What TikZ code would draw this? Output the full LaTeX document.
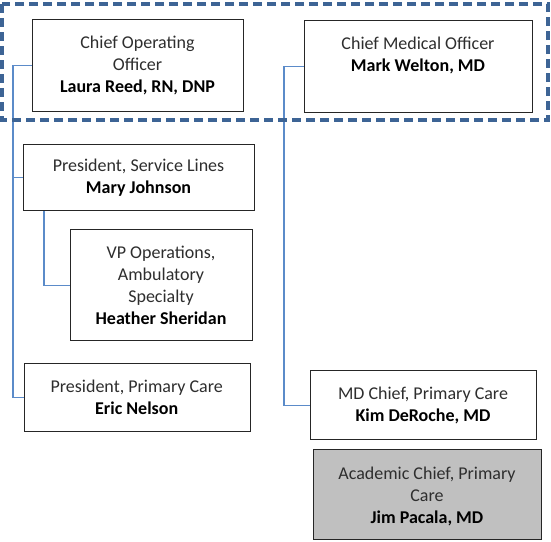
\documentclass[tikz,border=0pt]{standalone}
\usepackage{fontspec}
\setmainfont{Carlito}
\definecolor{dashblue}{HTML}{3D6495}
\definecolor{connblue}{HTML}{5B8BC9}
\definecolor{txtgray}{HTML}{2E2E2E}
\definecolor{boxgray}{HTML}{C0C0C0}
\tikzset{
  orgbox/.style={draw=black!85, line width=1.3pt, inner sep=0pt, anchor=north west, fill=white},
  txt/.style={align=center, inner sep=0pt, font=\fontsize{18}{22}\selectfont, text=txtgray},
  conn/.style={draw=connblue, line width=1.3pt},
  group/.style={draw=dashblue, line width=3.5pt, dash pattern=on 9pt off 5pt}
}
\begin{document}
\begin{tikzpicture}[x=1pt,y=-1pt]
\useasboundingbox (0,0) rectangle (551,541);
% boxes
\node[orgbox, minimum width=211pt, minimum height=92pt] (coo) at (32,19) {};
\node[orgbox, minimum width=228pt, minimum height=92pt] (cmo) at (304,20) {};
\node[orgbox, minimum width=231pt, minimum height=66pt] (psl) at (23,144) {};
\node[orgbox, minimum width=182pt, minimum height=111pt] (vp) at (70,229) {};
\node[orgbox, minimum width=226pt, minimum height=68pt] (ppc) at (24,363) {};
\node[orgbox, minimum width=226pt, minimum height=69pt] (mdc) at (310,370) {};
\node[orgbox, fill=boxgray, minimum width=228pt, minimum height=90pt] (aca) at (313,449) {};
% texts
\node[txt] (coot) at (137.5,65) {Chief Operating\\Officer\\\textcolor{black}{\textbf{Laura Reed, RN, DNP}}};
\node[txt] (cmot) at (418,55.5) {Chief Medical Officer\\\textcolor{black}{\textbf{Mark Welton, MD}}};
\node[txt] (pslt) at (138.5,177.5) {President, Service Lines\\\textcolor{black}{\textbf{Mary Johnson}}};
\node[txt] (vpt) at (161,285) {VP Operations,\\Ambulatory\\Specialty\\\textcolor{black}{\textbf{Heather Sheridan}}};
\node[txt] (ppct) at (136.7,397) {President, Primary Care\\\textcolor{black}{\textbf{Eric Nelson}}};
\node[txt] (mdct) at (423,405.4) {MD Chief, Primary Care\\\textcolor{black}{\textbf{Kim DeRoche, MD}}};
\node[txt] (acat) at (427,496) {Academic Chief, Primary\\Care\\\textcolor{black}{\textbf{Jim Pacala, MD}}};
% connectors
\draw[conn] (coo.west) -- ++(-19,0) coordinate (t1) |- (ppc.west);
\draw[conn] (t1 |- psl.west) -- (psl.west);
\draw[conn] ([xshift=21pt]psl.south west) |- (vp.west);
\draw[conn] (cmo.west) -- ++(-20,0) |- (mdc.west);
% group
\draw[group] (2,4) rectangle (548,120);
\end{tikzpicture}
\end{document}
